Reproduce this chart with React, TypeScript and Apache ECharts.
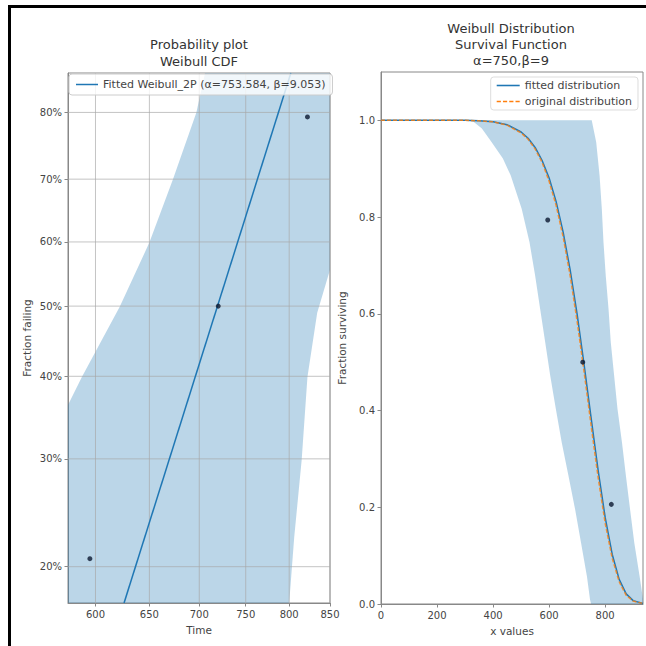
import React, { useEffect, useRef } from "react";
import * as echarts from "echarts";

// ---------- Left panel: Weibull probability plot ----------
const LEFT_X_TICKS = [600, 650, 700, 750, 800, 850];
const LEFT_Y_TICKS = [0.2, 0.3, 0.4, 0.5, 0.6, 0.7, 0.8];
const LEFT_T_RANGE = [576, 850];
const LEFT_F_RANGE = [0.1735, 0.852];

const FAIL_T = [595, 720, 822];
const FAIL_F = [0.2063, 0.5, 0.7937];

const FIT_LINE_T = [626, 802];
const FIT_LINE_F = [0.1735, 0.852];

// confidence band (time bounds)
const CI_LEFT_T = [503, 558, 576, 588, 622, 650, 673, 697, 706, 712];
const CI_LEFT_F = [0.17, 0.31, 0.363, 0.399, 0.499, 0.599, 0.699, 0.8, 0.852, 0.87];
const CI_RIGHT_T = [905, 850, 834, 822, 815, 806, 800, 797];
const CI_RIGHT_F = [0.87, 0.556, 0.49, 0.399, 0.299, 0.224, 0.1735, 0.16];

const FIT_LEGEND = "Fitted Weibull_2P (α=753.584, β=9.053)";

// ---------- Right panel: survival function ----------
const SURV_X = [0, 100, 200, 300, 350, 400, 450, 500, 525, 550, 575, 600, 625, 650, 675, 700, 725, 750, 775, 800, 825, 850, 875, 900, 935];
const FITTED_SF = [1, 1, 1, 1, 0.999, 0.997, 0.991, 0.976, 0.963, 0.944, 0.917, 0.881, 0.832, 0.769, 0.691, 0.599, 0.494, 0.384, 0.276, 0.179, 0.103, 0.051, 0.021, 0.007, 0.001];
const ORIGINAL_SF = [1, 1, 1, 1, 0.999, 0.997, 0.99, 0.974, 0.961, 0.941, 0.913, 0.874, 0.824, 0.759, 0.679, 0.584, 0.479, 0.368, 0.261, 0.167, 0.095, 0.046, 0.018, 0.006, 0.001];

const SURV_PTS_X = [595, 720, 822];
const SURV_PTS_Y = [0.794, 0.5, 0.206];

const BAND_UP_X = [300, 752, 768, 780, 788, 794, 802, 812, 820, 832, 844, 860, 874, 889, 904, 923, 935, 945];
const BAND_UP_Y = [1.0, 1.0, 0.955, 0.886, 0.817, 0.748, 0.679, 0.61, 0.541, 0.472, 0.403, 0.334, 0.265, 0.195, 0.126, 0.057, 0.01, 0];
const BAND_LO_X = [300, 330, 360, 395, 435, 463, 502, 530, 550, 568, 586, 604, 624, 645, 669, 693, 714, 735, 746, 750];
const BAND_LO_Y = [1.0, 0.997, 0.983, 0.955, 0.921, 0.886, 0.817, 0.748, 0.679, 0.61, 0.541, 0.472, 0.403, 0.334, 0.265, 0.195, 0.126, 0.057, 0.009, 0];

const RIGHT_X_TICKS = [0, 200, 400, 600, 800];
const RIGHT_Y_TICKS = [0, 0.2, 0.4, 0.6, 0.8, 1.0];
const RIGHT_X_RANGE = [0, 935];
const RIGHT_Y_RANGE = [0, 1.1];

const lx = (t: number) => Math.log(t);
const wy = (f: number) => Math.log(-Math.log(1 - f));

const FONT = "DejaVu Sans";
const TXT = "#444";
const SPINE = "#888";
const BAND = "rgba(31,119,180,0.3)";
const BLUE = "#1f77b4";
const ORANGE = "#ff7f0e";

const SOLID_ICON = "path://M0,0h22v1.5h-22z";
const DASH_ICON = "path://M0,0h4v1.5h-4zM6,0h4v1.5h-4zM12,0h4v1.5h-4zM18,0h4v1.5h-4z";

function polygonSeries(name: string, pts: number[][], xi: number, yi: number) {
  return {
    type: "custom",
    name,
    xAxisIndex: xi,
    yAxisIndex: yi,
    clip: true,
    silent: true,
    z: 1,
    data: pts,
    renderItem: (params: any, api: any) => {
      if (params.dataIndex !== 0) return null;
      const points = pts.map((p) => api.coord(p));
      return { type: "polygon", shape: { points }, style: { fill: BAND } };
    },
  };
}

export default function App() {
  const ref = useRef<HTMLDivElement>(null);
  useEffect(() => {
    if (!ref.current) return;
    const chart = echarts.init(ref.current, null, { renderer: "svg" });

    const xMinL = lx(LEFT_T_RANGE[0]);
    const xMaxL = lx(LEFT_T_RANGE[1]);
    const yMinL = wy(LEFT_F_RANGE[0]);
    const yMaxL = wy(LEFT_F_RANGE[1]);

    const leftBand: number[][] = [];
    CI_LEFT_T.forEach((t, i) => leftBand.push([lx(t), wy(CI_LEFT_F[i])]));
    CI_RIGHT_T.forEach((t, i) => leftBand.push([lx(t), wy(CI_RIGHT_F[i])]));

    const rightBand: number[][] = [];
    BAND_UP_X.forEach((x, i) => rightBand.push([x, BAND_UP_Y[i]]));
    for (let i = BAND_LO_X.length - 1; i >= 0; i--) rightBand.push([BAND_LO_X[i], BAND_LO_Y[i]]);

    const axisCommon = {
      axisLine: { show: true, onZero: false, lineStyle: { color: SPINE, width: 1 } },
      axisTick: { show: true, inside: false, length: 3.5, lineStyle: { color: SPINE } },
      splitLine: { show: false },
      nameTextStyle: { color: TXT, fontSize: 10.5, fontFamily: FONT },
    };
    const labelStyle = { color: TXT, fontSize: 10, fontFamily: FONT };

    const option: any = {
      animation: false,
      textStyle: { fontFamily: FONT },
      title: [
        {
          text: "Probability plot\nWeibull CDF",
          left: 199,
          top: 36,
          textAlign: "center",
          padding: 0,
          textStyle: { fontSize: 13, lineHeight: 16.7, fontWeight: "normal", color: "#333", fontFamily: FONT },
        },
        {
          text: "Weibull Distribution\nSurvival Function\nα=750,β=9",
          left: 511,
          top: 20,
          textAlign: "center",
          padding: 0,
          textStyle: { fontSize: 13, lineHeight: 16.2, fontWeight: "normal", color: "#333", fontFamily: FONT },
        },
      ],
      legend: [
        {
          data: [{ name: FIT_LEGEND, icon: SOLID_ICON }],
          left: 69,
          top: 74,
          padding: [5, 7],
          itemWidth: 22,
          itemHeight: 10,
          itemGap: 5,
          align: "left",
          backgroundColor: "rgba(255,255,255,0.8)",
          borderColor: "#ccc",
          borderWidth: 1,
          borderRadius: 3,
          textStyle: { fontSize: 11, color: TXT, fontFamily: FONT },
        },
        {
          data: [
            { name: "fitted distribution", icon: SOLID_ICON },
            { name: "original distribution", icon: DASH_ICON },
          ],
          right: 8,
          top: 77,
          orient: "vertical",
          padding: [3, 6],
          itemWidth: 23,
          itemHeight: 10,
          itemGap: 5,
          align: "left",
          backgroundColor: "rgba(255,255,255,0.8)",
          borderColor: "#ddd",
          borderWidth: 1,
          borderRadius: 3,
          textStyle: { fontSize: 11, color: TXT, fontFamily: FONT },
        },
      ],
      grid: [
        { left: 68, top: 73, width: 262, height: 530, show: true, borderColor: SPINE, borderWidth: 1, backgroundColor: "transparent" },
        { left: 381, top: 72, width: 262, height: 532, show: true, borderColor: SPINE, borderWidth: 1, backgroundColor: "transparent" },
      ],
      xAxis: [
        {
          ...axisCommon,
          type: "value",
          gridIndex: 0,
          min: xMinL,
          max: xMaxL,
          name: "Time",
          nameLocation: "middle",
          nameGap: 21,
          axisTick: { ...axisCommon.axisTick, customValues: LEFT_X_TICKS.map(lx) },
          axisLabel: {
            ...labelStyle,
            customValues: LEFT_X_TICKS.map(lx),
            formatter: (v: number) => String(Math.round(Math.exp(v))),
            margin: 6,
          },
        },
        {
          ...axisCommon,
          type: "value",
          gridIndex: 1,
          min: RIGHT_X_RANGE[0],
          max: RIGHT_X_RANGE[1],
          name: "x values",
          nameLocation: "middle",
          nameGap: 21,
          axisTick: { ...axisCommon.axisTick, customValues: RIGHT_X_TICKS },
          axisLabel: {
            ...labelStyle,
            customValues: RIGHT_X_TICKS,
            formatter: (v: number) => String(Math.round(v)),
            margin: 6,
          },
        },
      ],
      yAxis: [
        {
          ...axisCommon,
          type: "value",
          gridIndex: 0,
          min: yMinL,
          max: yMaxL,
          name: "Fraction failing",
          nameLocation: "middle",
          nameGap: 36,
          axisTick: { ...axisCommon.axisTick, customValues: LEFT_Y_TICKS.map(wy) },
          axisLabel: {
            ...labelStyle,
            customValues: LEFT_Y_TICKS.map(wy),
            formatter: (v: number) => Math.round((1 - Math.exp(-Math.exp(v))) * 100) + "%",
            margin: 6,
          },
        },
        {
          ...axisCommon,
          type: "value",
          gridIndex: 1,
          min: RIGHT_Y_RANGE[0],
          max: RIGHT_Y_RANGE[1],
          name: "Fraction surviving",
          nameLocation: "middle",
          nameGap: 34,
          axisTick: { ...axisCommon.axisTick, customValues: RIGHT_Y_TICKS },
          axisLabel: {
            ...labelStyle,
            customValues: RIGHT_Y_TICKS,
            formatter: (v: number) => v.toFixed(1),
            margin: 6,
          },
        },
      ],
      graphic: [
        { type: "rect", shape: { x: 8, y: 5, width: 638, height: 3 }, style: { fill: "#000" }, silent: true },
        { type: "rect", shape: { x: 8, y: 5, width: 3, height: 641 }, style: { fill: "#000" }, silent: true },
      ],
      series: [
        polygonSeries("left band", leftBand, 0, 0),
        {
          type: "custom",
          name: "vgrid",
          xAxisIndex: 0,
          yAxisIndex: 0,
          silent: true,
          z: 2,
          data: LEFT_X_TICKS.map((t) => [lx(t), (yMinL + yMaxL) / 2]),
          renderItem: (params: any, api: any) => {
            const cs = params.coordSys;
            const p = api.coord([api.value(0), api.value(1)]);
            return {
              type: "line",
              shape: { x1: p[0], y1: cs.y, x2: p[0], y2: cs.y + cs.height },
              style: { stroke: "#a8a8a8", lineWidth: 0.8, opacity: 0.85 },
            };
          },
        },
        {
          type: "custom",
          name: "hgrid",
          xAxisIndex: 0,
          yAxisIndex: 0,
          silent: true,
          z: 2,
          data: LEFT_Y_TICKS.map((f) => [(xMinL + xMaxL) / 2, wy(f)]),
          renderItem: (params: any, api: any) => {
            const cs = params.coordSys;
            const p = api.coord([api.value(0), api.value(1)]);
            return {
              type: "line",
              shape: { x1: cs.x, y1: p[1], x2: cs.x + cs.width, y2: p[1] },
              style: { stroke: "#a8a8a8", lineWidth: 0.8, opacity: 0.85 },
            };
          },
        },
        {
          type: "line",
          name: FIT_LEGEND,
          xAxisIndex: 0,
          yAxisIndex: 0,
          data: FIT_LINE_T.map((t, i) => [lx(t), wy(FIT_LINE_F[i])]),
          symbol: "none",
          lineStyle: { color: BLUE, width: 1.5 },
          itemStyle: { color: BLUE },
          z: 3,
        },
        {
          type: "scatter",
          name: "failures",
          xAxisIndex: 0,
          yAxisIndex: 0,
          data: FAIL_T.map((t, i) => [lx(t), wy(FAIL_F[i])]),
          symbolSize: 5,
          itemStyle: { color: "#0b1830" },
          z: 4,
        },
        polygonSeries("right band", rightBand, 1, 1),
        {
          type: "line",
          name: "fitted distribution",
          xAxisIndex: 1,
          yAxisIndex: 1,
          data: SURV_X.map((x, i) => [x, FITTED_SF[i]]),
          symbol: "none",
          lineStyle: { color: BLUE, width: 1.5 },
          itemStyle: { color: BLUE },
          z: 3,
        },
        {
          type: "line",
          name: "original distribution",
          xAxisIndex: 1,
          yAxisIndex: 1,
          data: SURV_X.map((x, i) => [x, ORIGINAL_SF[i]]),
          symbol: "none",
          lineStyle: { color: ORANGE, width: 1.5, type: [4, 2], opacity: 0.8 },
          itemStyle: { color: ORANGE },
          z: 3,
        },
        {
          type: "scatter",
          name: "survival points",
          xAxisIndex: 1,
          yAxisIndex: 1,
          data: SURV_PTS_X.map((x, i) => [x, SURV_PTS_Y[i]]),
          symbolSize: 5,
          itemStyle: { color: "#0b1830" },
          z: 4,
        },
      ],
    };

    chart.setOption(option);
    return () => chart.dispose();
  }, []);

  return (
    <div
      ref={ref}
      style={{ position: "fixed", left: 0, top: 0, width: 646, height: 646, background: "#fff" }}
    />
  );
}
